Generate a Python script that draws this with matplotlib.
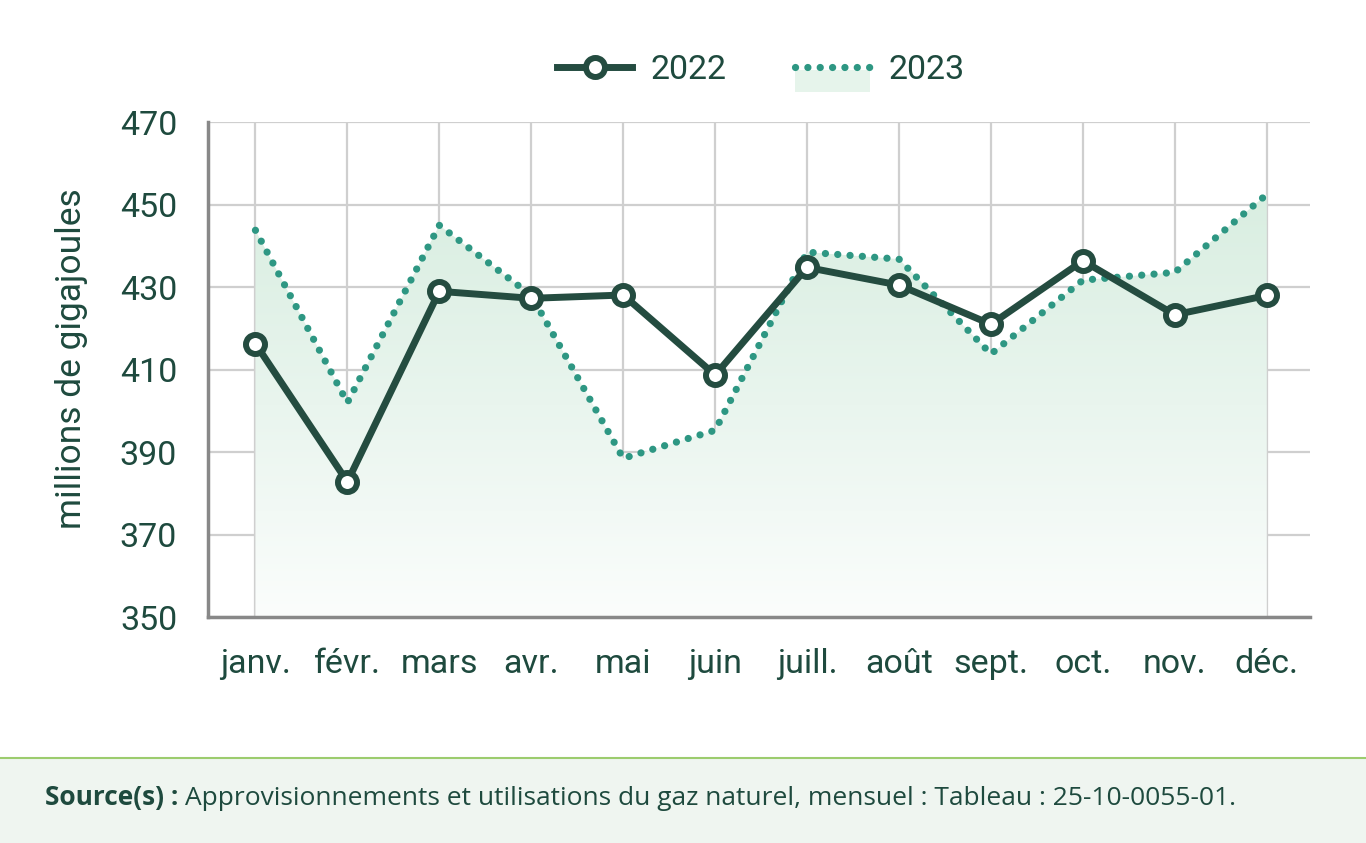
import numpy as np
import matplotlib
matplotlib.use("Agg")
import matplotlib.pyplot as plt
from matplotlib.lines import Line2D
from matplotlib.patches import Rectangle
from matplotlib.legend_handler import HandlerBase

# Données (millions de gigajoules)
mois = ["janv.", "févr.", "mars", "avr.", "mai", "juin",
        "juill.", "août", "sept.", "oct.", "nov.", "déc."]
val_2022 = [416.3, 382.8, 429.0, 427.3, 428.1, 408.7,
            434.8, 430.5, 421.0, 436.4, 423.3, 428.0]
val_2023 = [443.8, 402.0, 445.0, 428.0, 388.5, 395.3,
            438.5, 436.8, 413.8, 431.7, 433.6, 452.5]
yticks = [350, 370, 390, 410, 430, 450, 470]

vert_fonce = "#244c40"
vert_texte = "#1e4a3e"
sarcelle = "#2e9783"
points = (0, (0.01, 1.7))

plt.rcParams["font.family"] = ["Roboto", "DejaVu Sans"]

fig = plt.figure(figsize=(13.66, 8.43), dpi=100)
ax = fig.add_axes([0.152, 0.268, 0.807, 0.587])

x = np.arange(len(mois))

# remplissage en dégradé sous 2023
poly = ax.fill_between(x, val_2023, 350, color="none", lw=0)
grad = np.linspace(0, 1, 256).reshape(-1, 1)
cmap = matplotlib.colors.LinearSegmentedColormap.from_list(
    "g", ["#fbfdfc", "#e9f5ee", "#d9eee1"])
im = ax.imshow(grad, cmap=cmap, aspect="auto", origin="lower",
               extent=[x[0], x[-1], 350, max(val_2023)], zorder=1)
im.set_clip_path(poly.get_paths()[0], transform=ax.transData)

ax.plot(x, val_2023, color=sarcelle, lw=5.2, linestyle=points,
        dash_capstyle="round", zorder=3)
ax.plot(x, val_2022, color=vert_fonce, lw=5, marker="o", markersize=13.7,
        markerfacecolor="white", markeredgecolor=vert_fonce,
        markeredgewidth=4.3, zorder=4)

ax.set_xlim(-0.52, 11.47)
ax.set_ylim(350, 470)
ax.set_yticks(yticks)
ax.set_xticks(x)
ax.set_xticklabels(mois)
ax.grid(True, color="#cfcfcf", lw=1.6, zorder=0)
ax.set_axisbelow(True)
ax.tick_params(length=0, labelsize=24.5, colors=vert_texte)
ax.tick_params(axis="x", pad=22)
ax.tick_params(axis="y", pad=22)
for s in ["top", "right"]:
    ax.spines[s].set_visible(False)
for s in ["left", "bottom"]:
    ax.spines[s].set_color("#888888")
    ax.spines[s].set_linewidth(2.5)
    ax.spines[s].set_zorder(5)
ax.set_ylabel("millions de gigajoules", fontsize=25.5, color=vert_texte,
              labelpad=23)
ax.yaxis.label.set_y(0.522)


class HandlerPointille(HandlerBase):
    def create_artists(self, legend, orig, xd, yd, w, h, fontsize, trans):
        rect = Rectangle((xd, yd - h * 0.55), w, h * 0.95, transform=trans,
                         facecolor="#e6f4eb", edgecolor="none")
        ln = Line2D([xd, xd + w], [yd + h / 2, yd + h / 2], transform=trans,
                    color=sarcelle, lw=5.2, linestyle=points,
                    dash_capstyle="round")
        return [rect, ln]


h22 = Line2D([], [], color=vert_fonce, lw=5, marker="o", markersize=13.7,
             markerfacecolor="white", markeredgecolor=vert_fonce,
             markeredgewidth=4.3)
h23 = Line2D([], [], color=sarcelle)
leg = ax.legend([h22, h23], ["2022", "2023"], loc="center",
                bbox_to_anchor=(0.502, 1.105), ncol=2, frameon=False,
                fontsize=24.5, handlelength=2.2, handletextpad=0.55,
                columnspacing=2.0,
                handler_map={h23: HandlerPointille()})
for t in leg.get_texts():
    t.set_color(vert_texte)

# bandeau de la source
fig.patches.append(Rectangle((0, 0), 1, 1 - 758 / 843, transform=fig.transFigure,
                             facecolor="#eff5f0", edgecolor="none", zorder=0))
fig.lines.append(Line2D([0, 1], [1 - 758 / 843] * 2, transform=fig.transFigure,
                        color="#9ccc6e", lw=1.5))
t1 = fig.text(45 / 1366, 1 - 805 / 843, "Source(s) :", fontsize=19,
              fontweight="bold", family=["Open Sans", "DejaVu Sans"],
              color=vert_texte, va="baseline")
fig.canvas.draw()
bb = t1.get_window_extent()
fig.text((bb.x1 + 7) / 1366, 1 - 805 / 843,
         "Approvisionnements et utilisations du gaz naturel, mensuel : Tableau : 25-10-0055-01.",
         fontsize=19, family=["Open Sans", "DejaVu Sans"], color=vert_texte,
         va="baseline")

fig.savefig("out.png", dpi=100)
